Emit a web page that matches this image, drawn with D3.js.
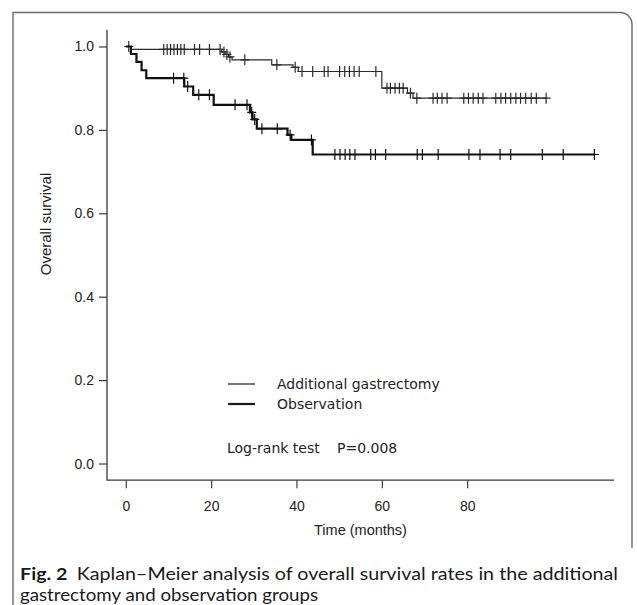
<!DOCTYPE html>
<html><head><meta charset="utf-8">
<script src="https://cdn.jsdelivr.net/npm/d3@7"></script>
<style>body{margin:0;background:#fff} svg{display:block}</style>
</head><body>
<script>
// ---- data ----
const xTicks = [0, 20, 40, 60, 80];
const yTicks = [0.0, 0.2, 0.4, 0.6, 0.8, 1.0];
const xMax = 110;

const seriesNames = ["Additional gastrectomy", "Observation"];

// Additional gastrectomy (thin line)
const agStepTimes = [0, 1.3, 22.5, 23.3, 24.1, 24.9, 34.2, 39.2, 40.4, 60.0, 66.0, 67.3];
const agSurvival  = [1.0, 0.993, 0.987, 0.981, 0.975, 0.968, 0.956, 0.950, 0.940, 0.900, 0.888, 0.876];
const agCensor = [0.7, 8.9, 9.7, 10.5, 11.3, 12.1, 12.9, 13.7, 16.1, 17.3, 19.6, 22.1, 23.0, 23.7, 24.4, 27.9,
  35.4, 39.7, 41.3, 43.8, 46.5, 47.4, 50.1, 51.3, 52.4, 53.5, 54.7, 58.6, 61.2, 62.0, 63.1, 64.1, 65.0,
  66.7, 68.2, 72.0, 73.0, 74.1, 75.3, 79.2, 80.3, 81.4, 82.6, 83.7, 86.7, 87.9, 89.0, 90.2, 91.4, 92.5,
  93.7, 95.0, 96.2, 98.5];
const agEnd = 98.5;

// Observation (thick line)
const obsStepTimes = [0, 1.2, 2.5, 3.7, 4.8, 13.7, 15.8, 20.6, 29.1, 29.7, 30.7, 37.9, 38.8, 43.8];
const obsSurvival  = [1.0, 0.982, 0.963, 0.943, 0.924, 0.904, 0.884, 0.860, 0.842, 0.825, 0.803, 0.788, 0.776, 0.741];
const obsCensor = [11.2, 13.6, 14.5, 17.1, 19.6, 25.6, 28.4, 29.5, 30.2, 31.9, 35.5, 38.5, 43.5, 49.0, 50.2,
  51.4, 52.5, 53.7, 57.4, 58.5, 60.9, 68.3, 69.5, 73.2, 80.4, 83.0, 87.7, 90.2, 97.6, 102.5, 109.8];
const obsEnd = 109.8;

const captionBold = "Fig. 2";
const captionLine1 = "Kaplan\u2013Meier analysis of overall survival rates in the additional";
const captionLine2 = "gastrectomy and observation groups";
const xLabel = "Time (months)";
const yLabel = "Overall survival";
const testLabel = "Log-rank test";
const pLabel = "P=0.008";

// ---- drawing ----
const W = 637, H = 605;
const svg = d3.select("body").append("svg").attr("width", W).attr("height", H);

// figure frame
svg.append("path")
  .attr("d", "M13,605 V12.5 H620 A12,12 0 0 1 632,24.5 V548")
  .attr("fill", "none").attr("stroke", "#6b6b6b").attr("stroke-width", 1.4);

const x = d3.scaleLinear().domain([-0.04 * xMax, 1.04 * xMax]).range([107, 614]);
const y = d3.scaleLinear().domain([-0.04, 1.04]).range([480.2, 29.8]);

const axisFont = "'Liberation Sans', Arial, sans-serif";
const axColor = "#3a3a3a";

// L-shaped frame
svg.append("path")
  .attr("d", `M${x.range()[0]},${y.range()[1]} V${y.range()[0]} H${x.range()[1]}`)
  .attr("fill", "none").attr("stroke", axColor).attr("stroke-width", 1.3);

const gy = svg.append("g").attr("transform", `translate(${x.range()[0]},0)`)
  .call(d3.axisLeft(y).tickValues(yTicks).tickFormat(d3.format(".1f")).tickSize(8).tickPadding(5).tickSizeOuter(0));
gy.select(".domain").remove();
gy.selectAll("line").attr("stroke", axColor).attr("stroke-width", 1.2);
gy.selectAll("text").attr("font-family", axisFont).attr("font-size", 14).attr("fill", "#222");

const gx = svg.append("g").attr("transform", `translate(0,${y.range()[0]})`)
  .call(d3.axisBottom(x).tickValues(xTicks).tickFormat(d3.format("d")).tickSize(8).tickPadding(13).tickSizeOuter(0));
gx.select(".domain").remove();
gx.selectAll("line").attr("stroke", axColor).attr("stroke-width", 1.2);
gx.selectAll("text").attr("font-family", axisFont).attr("font-size", 14).attr("fill", "#222");

svg.append("text").attr("x", (x.range()[0] + x.range()[1]) / 2).attr("y", 535)
  .attr("text-anchor", "middle").attr("font-family", axisFont).attr("font-size", 14.5).attr("fill", "#222")
  .text(xLabel);
svg.append("text").attr("transform", "translate(51,224) rotate(-90)")
  .attr("text-anchor", "middle").attr("font-family", axisFont).attr("font-size", 15).attr("fill", "#222")
  .text(yLabel);

// KM curves
function survAt(times, surv, t) {
  let s = surv[0];
  for (let i = 0; i < times.length; i++) if (times[i] <= t) s = surv[i];
  return s;
}
const line = d3.line().x(d => x(d[0])).y(d => y(d[1])).curve(d3.curveStepAfter);

const groups = [
  {times: agStepTimes, surv: agSurvival, censor: agCensor, end: agEnd, w: 1.2, color: "#2b2b2b"},
  {times: obsStepTimes, surv: obsSurvival, censor: obsCensor, end: obsEnd, w: 2.2, color: "#111"}
];
groups.forEach(g => {
  const pts = g.times.map((t, i) => [t, g.surv[i]]);
  pts.push([g.end, g.surv[g.surv.length - 1]]);
  svg.append("path").attr("d", line(pts)).attr("fill", "none")
    .attr("stroke", g.color).attr("stroke-width", g.w);
  svg.append("g").selectAll("path").data(g.censor).join("path")
    .attr("d", t => {
      const cx = x(t), cy = y(survAt(g.times, g.surv, t));
      return `M${cx - 4.5},${cy} H${cx + 4.5} M${cx},${cy - 5.5} V${cy + 5.5}`;
    })
    .attr("fill", "none").attr("stroke", g.color).attr("stroke-width", 1.2);
});

// legend
const legFont = "'DejaVu Sans', Verdana, sans-serif";
const leg = [{name: seriesNames[0], w: 1.2, y: 384}, {name: seriesNames[1], w: 2.2, y: 404}];
leg.forEach(l => {
  svg.append("line").attr("x1", 228).attr("x2", 255).attr("y1", l.y).attr("y2", l.y)
    .attr("stroke", "#1a1a1a").attr("stroke-width", l.w);
  svg.append("text").attr("x", 277).attr("y", l.y).attr("dy", "0.35em")
    .attr("font-family", legFont).attr("font-size", 14).attr("fill", "#222").text(l.name);
});
svg.append("text").attr("x", 227).attr("y", 448).attr("dy", "0.35em")
  .attr("font-family", legFont).attr("font-size", 14).attr("fill", "#222").text(testLabel);
svg.append("text").attr("x", 337).attr("y", 448).attr("dy", "0.35em")
  .attr("font-family", legFont).attr("font-size", 14).attr("fill", "#222").text(pLabel);

// caption
const capFont = "Lato, 'Noto Sans', sans-serif";
const capSize = 17;
const cap1 = svg.append("text").attr("x", 20).attr("y", 580)
  .attr("font-family", capFont).attr("font-size", capSize).attr("fill", "#1a1a1a");
cap1.append("tspan").attr("font-weight", "bold").text(captionBold);
cap1.append("tspan").attr("dx", 8).text(captionLine1);
const cap2 = svg.append("text").attr("x", 20).attr("y", 601)
  .attr("font-family", capFont).attr("font-size", capSize).attr("fill", "#1a1a1a").text(captionLine2);
cap1.attr("textLength", 598).attr("lengthAdjust", "spacingAndGlyphs");
cap2.attr("textLength", 298).attr("lengthAdjust", "spacingAndGlyphs");
</script>
</body></html>
